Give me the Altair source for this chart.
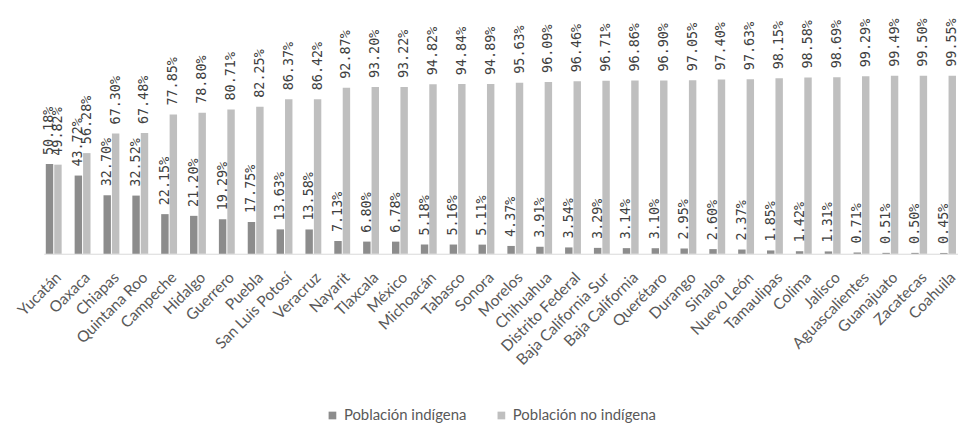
import altair as alt
import pandas as pd

estados = ["Yucatán", "Oaxaca", "Chiapas", "Quintana Roo", "Campeche", "Hidalgo",
           "Guerrero", "Puebla", "San Luis Potosí", "Veracruz", "Nayarit", "Tlaxcala",
           "México", "Michoacán", "Tabasco", "Sonora", "Morelos", "Chihuahua",
           "Distrito Federal", "Baja California Sur", "Baja California", "Querétaro",
           "Durango", "Sinaloa", "Nuevo León", "Tamaulipas", "Colima", "Jalisco",
           "Aguascalientes", "Guanajuato", "Zacatecas", "Coahuila"]
indigena = [50.18, 43.72, 32.70, 32.52, 22.15, 21.20, 19.29, 17.75, 13.63, 13.58,
            7.13, 6.80, 6.78, 5.18, 5.16, 5.11, 4.37, 3.91, 3.54, 3.29, 3.14, 3.10,
            2.95, 2.60, 2.37, 1.85, 1.42, 1.31, 0.71, 0.51, 0.50, 0.45]
no_indigena = [49.82, 56.28, 67.30, 67.48, 77.85, 78.80, 80.71, 82.25, 86.37, 86.42,
               92.87, 93.20, 93.22, 94.82, 94.84, 94.89, 95.63, 96.09, 96.46, 96.71,
               96.86, 96.90, 97.05, 97.40, 97.63, 98.15, 98.58, 98.69, 99.29, 99.49,
               99.50, 99.55]
series = ["Población indígena", "Población no indígena"]
colores = ["#8c8c8c", "#bfbfbf"]

rows = []
for e, a, b in zip(estados, indigena, no_indigena):
    rows.append({"estado": e, "serie": series[0], "valor": a})
    rows.append({"estado": e, "serie": series[1], "valor": b})
df = pd.DataFrame(rows)
df["label"] = df["valor"].map(lambda v: f"{v:.2f}%")

x = alt.X("estado:N", sort=estados, title=None,
          scale=alt.Scale(paddingInner=0.45, paddingOuter=0.07),
          axis=alt.Axis(labelAngle=-45, labelAlign="right", labelBaseline="top",
                        labelFont="Lato", labelFontSize=15.5,
                        labelColor="#595959", labelPadding=16, labelOverlap=False,
                        labelLimit=300, ticks=False, domainColor="#d9d9d9", domainWidth=1))
xo = alt.XOffset("serie:N", sort=series, scale=alt.Scale(paddingInner=0.12))
y = alt.Y("valor:Q", scale=alt.Scale(domain=[0, 100]), axis=None)

bars = alt.Chart(df).mark_bar().encode(
    x=x, xOffset=xo, y=y,
    color=alt.Color("serie:N", sort=series,
                    scale=alt.Scale(domain=series, range=colores),
                    legend=alt.Legend(title=None, orient="none", direction="horizontal",
                                      legendX=283, legendY=335, symbolType="square",
                                      symbolSize=60, symbolStrokeWidth=0,
                                      labelFont="Lato", labelFontSize=15,
                                      labelColor="#595959", columnPadding=27,
                                      labelLimit=300))
)

labels = alt.Chart(df).mark_text(angle=270, align="left", baseline="middle", dx=9,
                                 font="DejaVu Sans Mono", fontSize=13.5,
                                 color="#404040").encode(
    x=alt.X("estado:N", sort=estados), xOffset=xo, y=y, text="label:N"
)

chart = alt.layer(bars, labels).properties(
    width=920, height=180,
    padding={"left": 36, "top": 66, "right": 0, "bottom": 170},
    autosize=alt.AutoSizeParams(type="none"),
).configure_view(stroke=None).configure_axis(grid=False)

chart.save("out.html", embed_options={"renderer": "svg", "actions": False})
